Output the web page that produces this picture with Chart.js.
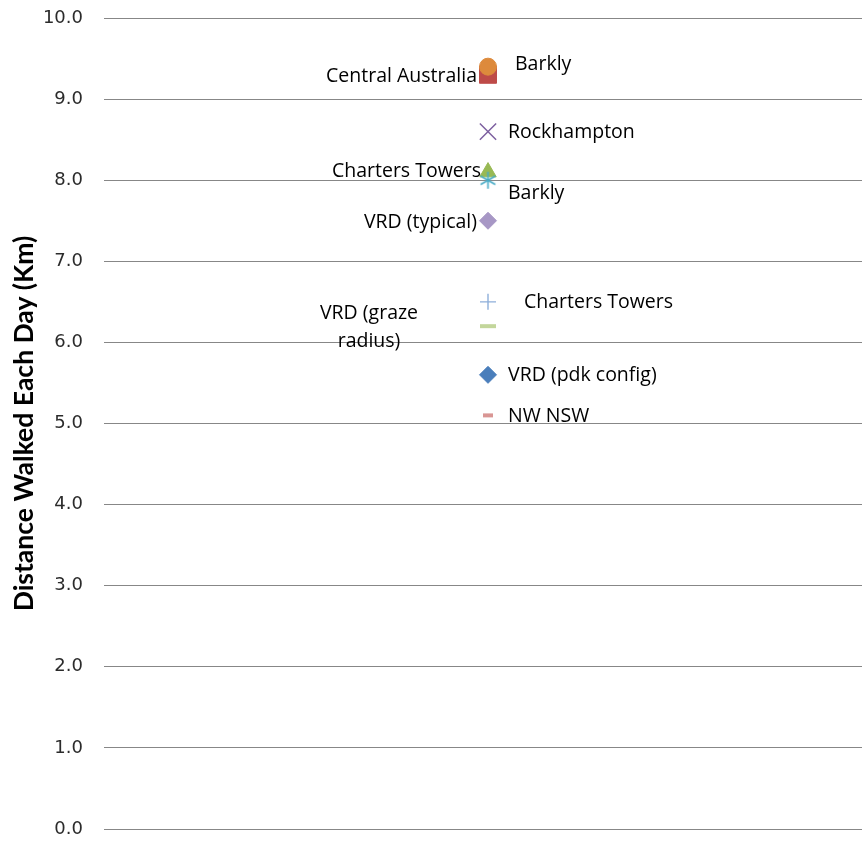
<!DOCTYPE html>
<html>
<head>
<meta charset="utf-8">
<script src="https://cdn.jsdelivr.net/npm/chart.js@4.4.1/dist/chart.umd.min.js"></script>
<style>
  html, body { margin: 0; padding: 0; background: #fff; overflow: hidden; }
  #wrap { width: 872px; height: 842px; }
</style>
</head>
<body>
<div id="wrap"><canvas id="c" width="872" height="842"></canvas></div>
<script>
// Study sites and the average distance cattle walk per day (km)
const siteNames = [
  'VRD (pdk config)',
  'Central Australia',
  'Charters Towers',
  'Rockhampton',
  'Barkly',
  'Barkly',
  'Charters Towers',
  'NW NSW',
  'VRD (graze\nradius)',
  'VRD (typical)'
];
const distanceKm = [5.6, 9.3, 8.1, 8.6, 8.0, 9.4, 6.5, 5.1, 6.2, 7.5];
const yTickValues = [0, 1, 2, 3, 4, 5, 6, 7, 8, 9, 10];

// Six-armed asterisk marker (vertical stroke plus two slanted strokes)
function asteriskMarker(color, r, lw) {
  const size = Math.ceil(2 * r + 4);
  const cv = document.createElement('canvas');
  cv.width = size; cv.height = size;
  const g = cv.getContext('2d');
  g.strokeStyle = color;
  g.lineWidth = lw;
  const c = size / 2;
  [90, 30, 150].forEach(deg => {
    const a = deg * Math.PI / 180;
    g.beginPath();
    g.moveTo(c - Math.cos(a) * r, c - Math.sin(a) * r);
    g.lineTo(c + Math.cos(a) * r, c + Math.sin(a) * r);
    g.stroke();
  });
  return cv;
}

// Marker appearance for each site
const markerStyles = [
  { shape: 'rectRot',  color: '#4A7EBB', r: 8.5, bw: 1 },
  { shape: 'rect',     color: '#BE4B48', r: 12,  bw: 1 },
  { shape: 'triangle', color: '#98B954', r: 9.5, bw: 1 },
  { shape: 'crossRot', color: '#7D60A0', r: 11.5, bw: 1.5 },
  { shape: asteriskMarker('#46AAC5', 8.5, 1.6), color: '#46AAC5', r: 8.5, bw: 1.6 },
  { shape: 'circle',   color: '#DD8A3C', r: 8.5, bw: 1 },
  { shape: 'cross',    color: '#8EAFDA', r: 8,  bw: 1.4 },
  { shape: 'line',     color: '#D99694', r: 5,  bw: 4 },
  { shape: 'line',     color: '#C3D69B', r: 8,  bw: 4 },
  { shape: 'rectRot',  color: '#A797C5', r: 8.5, bw: 1 }
];
// Label placement relative to each marker: offset in px and text alignment
const labelPlacement = [
  { dx: 20,   dy: 1,  align: 'left' },
  { dx: -11,  dy: 2,  align: 'right' },
  { dx: -7,   dy: -1, align: 'right' },
  { dx: 20,   dy: 1,  align: 'left' },
  { dx: 20,   dy: 13, align: 'left' },
  { dx: 27,   dy: -2, align: 'left' },
  { dx: 36,   dy: 1,  align: 'left' },
  { dx: 20,   dy: 1,  align: 'left' },
  { dx: -119, dy: 1,  align: 'center' },
  { dx: -11,  dy: 2,  align: 'right' }
];
// Drawing order: lower numbers are painted on top
const drawOrder = [0, 2, 1, 0, 0, 1, 0, 0, 0, 0];

const datasets = siteNames.map((name, i) => ({
  label: name,
  data: [{ x: 1, y: distanceKm[i] }],
  pointStyle: markerStyles[i].shape,
  pointRadius: markerStyles[i].r,
  pointHoverRadius: markerStyles[i].r,
  backgroundColor: markerStyles[i].color,
  borderColor: markerStyles[i].color,
  pointBorderWidth: markerStyles[i].bw,
  order: drawOrder[i],
  showLine: false
}));

// Writes the site name next to each marker
const siteLabels = {
  id: 'siteLabels',
  afterDatasetsDraw(chart) {
    const ctx = chart.ctx;
    const xs = chart.scales.x, ys = chart.scales.y;
    ctx.save();
    ctx.font = '19.5px "Open Sans", sans-serif';
    ctx.fillStyle = '#000';
    ctx.textBaseline = 'middle';
    siteNames.forEach((name, i) => {
      const p = labelPlacement[i];
      const px = xs.getPixelForValue(1) + p.dx;
      const py = ys.getPixelForValue(distanceKm[i]) + p.dy;
      ctx.textAlign = p.align;
      const lines = name.split('\n');
      const lh = 28;
      lines.forEach((ln, k) => {
        ctx.fillText(ln, px, py + (k - (lines.length - 1) / 2) * lh);
      });
    });
    ctx.restore();
  }
};

new Chart(document.getElementById('c'), {
  type: 'scatter',
  data: { datasets },
  plugins: [siteLabels],
  options: {
    responsive: false,
    animation: false,
    events: [],
    layout: { autoPadding: false, padding: { left: 0, right: 0, top: 18, bottom: 13 } },
    plugins: { legend: { display: false }, tooltip: { enabled: false } },
    scales: {
      x: {
        type: 'linear', min: 0, max: 2, display: false,
        afterFit(scale) { scale.paddingLeft = 0; scale.paddingRight = 0; }
      },
      y: {
        type: 'linear',
        min: 0,
        max: 10,
        afterBuildTicks(scale) { scale.ticks = yTickValues.map(v => ({ value: v })); },
        afterFit(scale) {
          scale.width = 104;
          scale.paddingTop = 0;
          scale.paddingBottom = 0;
        },
        ticks: {
          callback: v => v.toFixed(1),
          font: { family: '"DejaVu Sans", sans-serif', size: 18 },
          color: '#2b2b2b',
          padding: 21
        },
        grid: { color: '#878787', lineWidth: 1, drawTicks: false },
        border: { display: false },
        title: {
          display: true,
          text: 'Distance Walked Each Day (Km)',
          font: { family: 'Lato, sans-serif', size: 26.5, weight: 'bold' },
          color: '#000',
          padding: { top: 9, bottom: 0 }
        }
      }
    }
  }
});
</script>
</body>
</html>
